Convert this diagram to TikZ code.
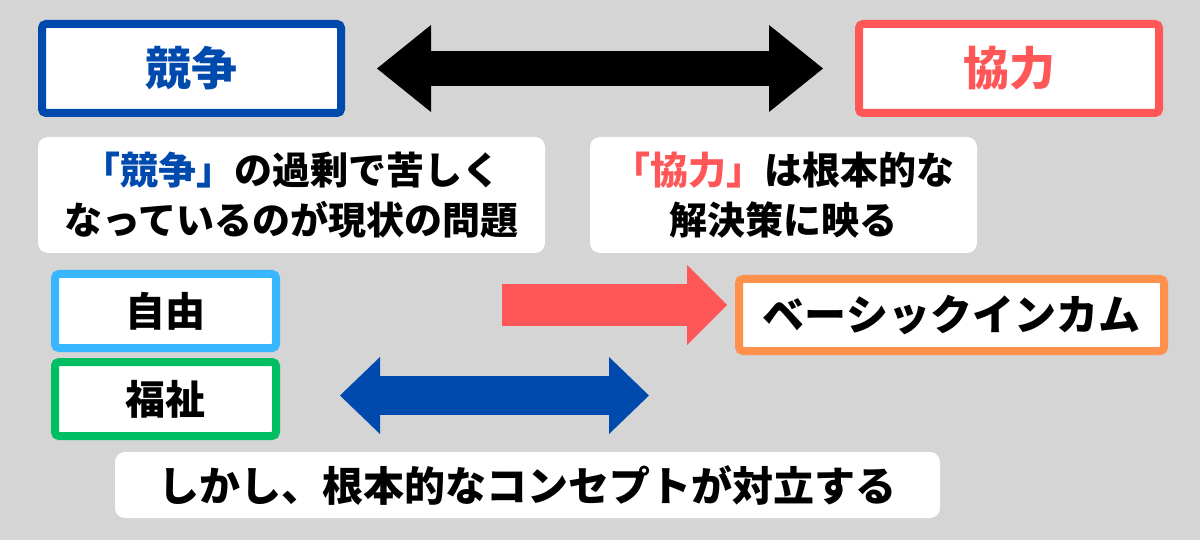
\documentclass[tikz,border=0pt]{standalone}
\usepackage{fontspec}
\setmainfont{Noto Sans CJK JP}
\usetikzlibrary{positioning,calc,arrows.meta}
\definecolor{cblue}{HTML}{004AAD}
\definecolor{cred}{HTML}{FF5757}
\definecolor{csky}{HTML}{38B6FF}
\definecolor{cgreen}{HTML}{00BF63}
\definecolor{corange}{HTML}{FF914D}
\definecolor{bgcol}{HTML}{D5D5D5}
\tikzstyle{frame} = [draw, line width=8pt, fill=white, rounded corners=4pt, inner sep=0pt, font=\bfseries\fontsize{40}{48}\selectfont]
\tikzstyle{note} = [fill=white, rounded corners=10pt, inner sep=0pt, align=center, font=\bfseries\fontsize{38}{50}\selectfont]
\tikzset{
    oneway/.style n args={4}{draw=#1, line width=#2, -{Triangle[length=#3, width=#4, line width=0pt]}},
    twoway/.style n args={4}{draw=#1, line width=#2, {Triangle[length=#3, width=#4, line width=0pt]}-{Triangle[length=#3, width=#4, line width=0pt]}}
}

\begin{document}
\begin{tikzpicture}[x=1pt, y=-1pt]
        \useasboundingbox (0,0) rectangle (1200,540);
        \fill [bgcol] (0,0) rectangle (1200,540);

        \node [frame, draw=cblue, text=cblue, minimum width=299pt, minimum height=89pt, font=\bfseries\fontsize{46}{55}\selectfont] (kyoso) at (191.5,68.5) {競争};
        \node [frame, draw=cred, text=cred, minimum width=300pt, minimum height=89pt, font=\bfseries\fontsize{46}{55}\selectfont] (kyoryoku) at (1009,68.5) {協力};

        \node [note, minimum width=507pt, minimum height=116pt] (mondai) at (291.5,195) {{\color{cblue}「競争」}の過剰で苦しく\\なっているのが現状の問題};
        \node [note, minimum width=387pt, minimum height=116pt] (kaiketsu) at (783.5,195) {{\color{cred}「協力」}は根本的な\\解決策に映る};

        \node [frame, draw=csky, minimum width=221pt, minimum height=74pt] (jiyu) at (165.5,311) {自由};
        \node [frame, draw=cgreen, minimum width=221pt, minimum height=74pt] (fukushi) at (165.5,399) {福祉};
        \node [frame, draw=corange, minimum width=425pt, minimum height=72pt, font=\bfseries\fontsize{42}{48}\selectfont] (bi) at (951.5,315) {ベーシックインカム};

        \node [note, minimum width=825pt, minimum height=66pt, font=\bfseries\fontsize{41}{48}\selectfont] (tairitsu) at (527.5,485) {しかし、根本的なコンセプトが対立する};

        \coordinate (redtail) at (502,305);
        \coordinate (bluetail) at (340,395.5);
        \coordinate (bluehead) at (649,395.5);

        \draw [twoway={black}{35pt}{54pt}{87pt}, shorten <=32pt, shorten >=32pt] (kyoso) -- (kyoryoku);
        \draw [oneway={cred}{41pt}{40pt}{80pt}, shorten >=8pt] (redtail) -- (redtail -| bi.west);
        \draw [twoway={cblue}{39pt}{40pt}{77pt}] (bluetail) -- (bluehead);
    \end{tikzpicture}
\end{document}
